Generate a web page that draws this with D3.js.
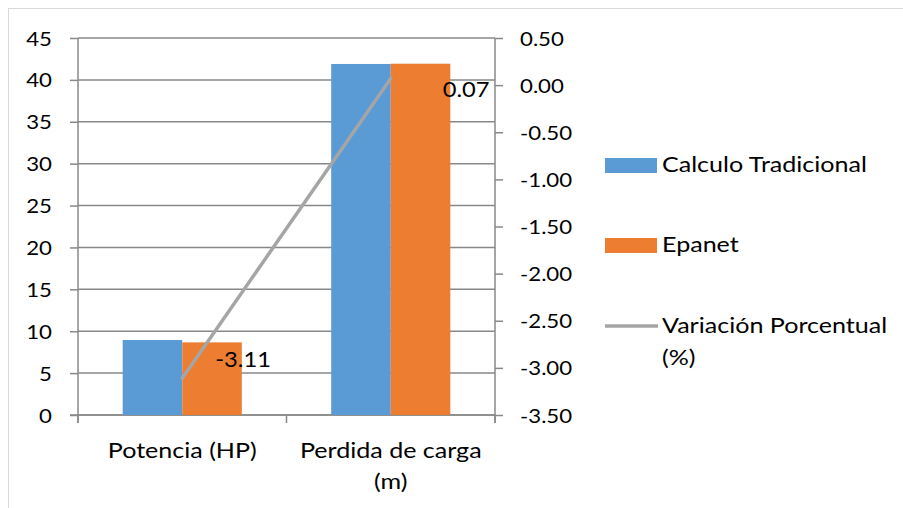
<!DOCTYPE html>
<html>
<head>
<meta charset="utf-8">
<script src="https://cdn.jsdelivr.net/npm/d3@7/dist/d3.min.js"></script>
<style>
  html, body { margin: 0; padding: 0; background: #fff; }
  svg { display: block; font-family: Lato, "Open Sans", sans-serif; }
</style>
</head>
<body>
<svg id="chart" width="903" height="508"></svg>
<script>
// Chart data
const categories = ["Potencia (HP)", "Perdida de carga (m)"];
const categoryLines = [["Potencia (HP)"], ["Perdida de carga", "(m)"]];
const calculoTradicional = [8.95, 41.9];
const epanet = [8.67, 41.93];
const variacionPorcentual = [-3.11, 0.07];
const leftTicks = [0, 5, 10, 15, 20, 25, 30, 35, 40, 45];
const rightTicks = [-3.5, -3.0, -2.5, -2.0, -1.5, -1.0, -0.5, 0.0, 0.5];
const seriesNames = ["Calculo Tradicional", "Epanet", "Variación Porcentual (%)"];

const colors = { blue: "#5B9BD5", orange: "#ED7D31", line: "#A5A5A5", axis: "#888888", text: "#000" };
const tickFont = 19.5, labelFont = 22, dataFont = 20.8;
const stretch = 1.14; // wide text rendering

const fmt2 = d => d3.format(".2f")(d).replace("\u2212", "-");

const svg = d3.select("#chart");

// Places a text node at (x, y) with the horizontal stretch applied around its anchor
function place(sel, x, y) {
  sel.attr("x", 0).attr("y", 0).attr("transform", `translate(${x},${y}) scale(${stretch},1)`);
}

// Chart area frame
svg.append("rect")
  .attr("x", 8.5).attr("y", 8.5)
  .attr("width", 1000).attr("height", 1000)
  .attr("fill", "#fff").attr("stroke", "#d9d9d9").attr("stroke-width", 1);

const plot = { left: 78, right: 495, top: 38, bottom: 415 };

const x = d3.scaleBand().domain(categories).range([plot.left, plot.right]).paddingInner(0).paddingOuter(0);
const xInner = d3.scaleBand().domain([0, 1]).range([0, x.bandwidth()]).paddingOuter(0.75).paddingInner(0);
const yLeft = d3.scaleLinear().domain([0, 45]).range([plot.bottom, plot.top]);
const yRight = d3.scaleLinear().domain([-3.5, 0.5]).range([plot.bottom, plot.top]);

// Horizontal gridlines
svg.append("g").selectAll("line").data(leftTicks).join("line")
  .attr("x1", plot.left).attr("x2", plot.right)
  .attr("y1", d => yLeft(d)).attr("y2", d => yLeft(d))
  .attr("stroke", colors.axis).attr("stroke-width", 1.5);

// Left axis
const gLeft = svg.append("g").attr("transform", `translate(${plot.left},0)`)
  .call(d3.axisLeft(yLeft).tickValues(leftTicks).tickFormat(d3.format("d")).tickSize(8).tickPadding(18));
// Right axis
const gRight = svg.append("g").attr("transform", `translate(${plot.right},0)`)
  .call(d3.axisRight(yRight).tickValues(rightTicks).tickFormat(fmt2).tickSize(8).tickPadding(17));
// Bottom axis (category boundaries)
const gBottom = svg.append("g").attr("transform", `translate(0,${plot.bottom})`)
  .call(d3.axisBottom(x).tickValues([]).tickSizeOuter(0));
const boundaries = [plot.left, plot.left + x.bandwidth(), plot.right];
gBottom.selectAll(".bound").data(boundaries).join("line")
  .attr("class", "bound")
  .attr("x1", d => d).attr("x2", d => d).attr("y1", 0).attr("y2", 8)
  .attr("stroke", colors.axis).attr("stroke-width", 1.5);

[gLeft, gRight, gBottom].forEach(g => {
  g.selectAll(".domain").attr("stroke", colors.axis).attr("stroke-width", 1.5);
  g.selectAll(".tick line").attr("stroke", colors.axis).attr("stroke-width", 1.5);
  g.selectAll("text").attr("font-size", tickFont).attr("fill", colors.text).attr("font-family", "Lato, sans-serif");
});
gLeft.selectAll(".tick text").each(function () { place(d3.select(this).attr("dy", "0.36em"), -26, 0); });
gRight.selectAll(".tick text").each(function () { place(d3.select(this).attr("dy", "0.36em"), 25, 0); });
gLeft.select(".domain").attr("d", `M0,${plot.top}V${plot.bottom + 8}`);
gRight.select(".domain").attr("d", `M0,${plot.top}V${plot.bottom + 8}`);
gBottom.select(".domain").attr("d", `M${plot.left - 8},0H${plot.right}`);

// Category labels
const catG = svg.append("g");
categoryLines.forEach((lines, i) => {
  const cx = x(categories[i]) + x.bandwidth() / 2;
  lines.forEach((ln, j) => {
    catG.append("text").attr("text-anchor", "middle").attr("font-size", labelFont).attr("fill", colors.text)
      .text(ln).call(place, cx, 458 + j * 31);
  });
});

// Bars
const bars = svg.append("g");
categories.forEach((c, i) => {
  [calculoTradicional[i], epanet[i]].forEach((v, k) => {
    bars.append("rect")
      .attr("x", x(c) + xInner(k))
      .attr("width", xInner.bandwidth())
      .attr("y", yLeft(v))
      .attr("height", yLeft(0) - yLeft(v))
      .attr("fill", k === 0 ? colors.blue : colors.orange);
  });
});

// Variation line on the secondary axis
const linePts = categories.map((c, i) => [x(c) + x.bandwidth() / 2, yRight(variacionPorcentual[i])]);
svg.append("path").datum(linePts)
  .attr("d", d3.line())
  .attr("fill", "none").attr("stroke", colors.line).attr("stroke-width", 3.5).attr("stroke-linecap", "round");

// Data labels
const labelOffsets = [[33, -11], [52, 18]];
svg.append("g").selectAll("text").data(variacionPorcentual).join("text")
  .attr("font-size", dataFont).attr("fill", colors.text)
  .text(fmt2)
  .each(function (d, i) { place(d3.select(this), linePts[i][0] + labelOffsets[i][0], linePts[i][1] + labelOffsets[i][1]); });

// Legend
const leg = svg.append("g");
const legX = 605, legTextX = 662;
leg.append("rect").attr("x", legX).attr("y", 158).attr("width", 52).attr("height", 15).attr("fill", colors.blue);
leg.append("text").attr("font-size", labelFont).text(seriesNames[0]).call(place, legTextX, 172);
leg.append("rect").attr("x", legX).attr("y", 238).attr("width", 52).attr("height", 15).attr("fill", colors.orange);
leg.append("text").attr("font-size", labelFont).text(seriesNames[1]).call(place, legTextX, 252);
leg.append("line").attr("x1", legX).attr("x2", legX + 53).attr("y1", 326).attr("y2", 326)
  .attr("stroke", colors.line).attr("stroke-width", 3.5);
leg.append("text").attr("font-size", labelFont).text("Variación Porcentual").call(place, legTextX, 333);
leg.append("text").attr("font-size", labelFont).text("(%)").call(place, legTextX, 365);
</script>
</body>
</html>
